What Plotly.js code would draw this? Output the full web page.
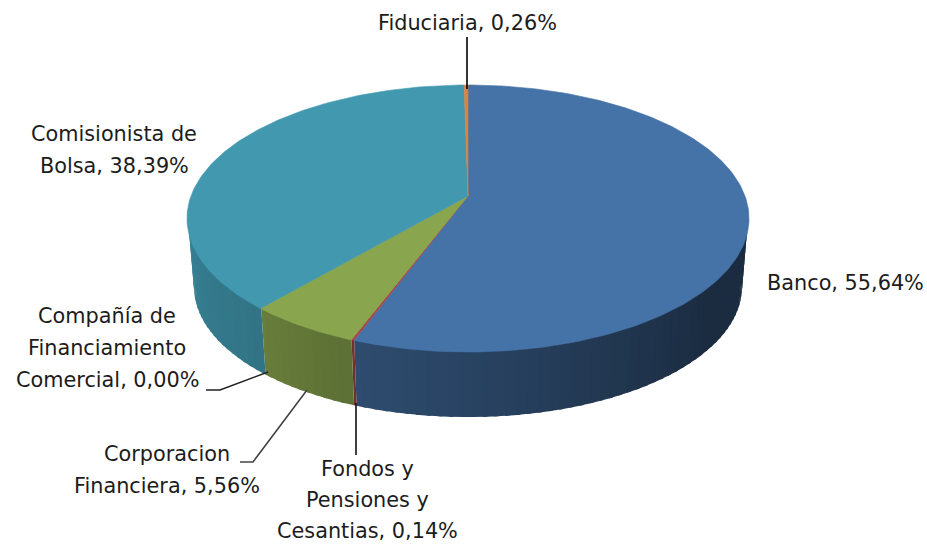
<!DOCTYPE html>
<html>
<head>
<meta charset="utf-8">
<script src="https://cdn.plot.ly/plotly-3.0.1.min.js"></script>
<style>html,body{margin:0;padding:0;background:#fff}#chart{width:927px;height:544px}</style>
</head>
<body>
<div id="chart"></div>
<script>
// Data, clockwise from 12 o'clock
const categories = ["Banco", "Fondos y Pensiones y Cesantias", "Corporacion Financiera", "Compañía de Financiamiento Comercial", "Comisionista de Bolsa", "Fiduciaria"];
const shares = [55.64, 0.14, 5.56, 0.00, 38.39, 0.26];
const colors = ["#4572A7", "#AA4643", "#89A54E", "#71588F", "#4198AF", "#DB843D"];
const labelLines = [
  ["Banco, 55,64%"],
  ["Fondos y", "Pensiones y", "Cesantias, 0,14%"],
  ["Corporacion", "Financiera, 5,56%"],
  ["Compañía de", "Financiamiento", "Comercial, 0,00%"],
  ["Comisionista de", "Bolsa, 38,39%"],
  ["Fiduciaria, 0,26%"]
];

// Label placement (pixel-like axis units), one entry per slice
const labelCenterX = [845, 367, 167, 107, 114, 467];
const labelFirstY = [283, 469, 454, 316, 134, 23];
const labelLineGap = [31.5, 31, 31.5, 32, 31.5, 31.5];
// Leader lines
const leaders = [
  {x: [467, 467], y: [37, 89], c: "#000"},
  {x: [356, 356], y: [403, 455], c: "#111"},
  {x: [307, 253, 240], y: [390, 462, 462], c: "#444"},
  {x: [268, 220, 206], y: [372, 390, 390], c: "#222"}
];

// Projection of the tilted disc
const cx = 468, topCy = 196, baseCy = 265, a = 277, b = 129.7, k = 0.1685, baseScale = 0.975;
function project(frac, s, cy) {
  const t = 2 * Math.PI * frac, X = Math.sin(t), Y = -Math.cos(t), d = 1 - k * Y;
  return [cx + s * a * X / d, cy + s * b * Y / d];
}
const shadeDeg = [0, 130, 200, 220, 300, 360];
const shadeVal = [0.39, 0.39, 0.67, 0.76, 0.93, 0.93];
function shadeAt(deg) {
  for (let i = 1; i < shadeDeg.length; i++) {
    if (deg <= shadeDeg[i]) {
      const f = (deg - shadeDeg[i - 1]) / (shadeDeg[i] - shadeDeg[i - 1]);
      return shadeVal[i - 1] + f * (shadeVal[i] - shadeVal[i - 1]);
    }
  }
  return shadeVal[shadeVal.length - 1];
}
function shaded(hex, f) {
  const n = parseInt(hex.slice(1), 16);
  return "rgb(" + [n >> 16 & 255, n >> 8 & 255, n & 255].map(v => Math.round(v * f)).join(",") + ")";
}

const total = shares.reduce((p, v) => p + v, 0);
const traces = [];
let acc = 0;
const spans = shares.map(v => { const s = [acc / total, (acc + v) / total]; acc += v; return s; });

// Side wall: strips drawn clockwise, each overlapping the next one a little
const sideFrom = 60 / 360, sideTo = 300 / 360, stepFrac = 2 / 360, overlap = 0.8 / 360, topInset = 0.996;
spans.forEach((sp, i) => {
  const from = Math.max(sp[0], sideFrom), to = Math.min(sp[1], sideTo);
  if (to <= from) return;
  const n = Math.max(1, Math.ceil((to - from) / stepFrac));
  for (let j = n - 1; j >= 0; j--) {
    const f0 = from + (to - from) * j / n;
    const f1 = from + (to - from) * (j + 1) / n + (j === n - 1 ? 0 : overlap);
    const p = [project(f0, topInset, topCy), project(f1, topInset, topCy), project(f1, baseScale, baseCy), project(f0, baseScale, baseCy)];
    traces.push({
      type: "scatter", mode: "none", x: p.map(q => q[0]).concat(p[0][0]), y: p.map(q => q[1]).concat(p[0][1]),
      fill: "toself", fillcolor: shaded(colors[i], shadeAt((f0 + f1) * 180)), hoverinfo: "skip", showlegend: false
    });
  }
});

// Top face
spans.forEach((sp, i) => {
  if (sp[1] <= sp[0]) return;
  const n = Math.max(2, Math.ceil((sp[1] - sp[0]) * 360));
  const xs = [cx], ys = [topCy];
  for (let j = 0; j <= n; j++) {
    const q = project(sp[0] + (sp[1] - sp[0]) * j / n, 1, topCy);
    xs.push(q[0]); ys.push(q[1]);
  }
  xs.push(cx); ys.push(topCy);
  traces.push({
    type: "scatter", mode: "lines", name: categories[i], x: xs, y: ys, fill: "toself", fillcolor: colors[i],
    line: {color: colors[i], width: 0.6}, text: categories[i] + ": " + shares[i].toFixed(2).replace(".", ",") + "%",
    hoverinfo: "text", showlegend: false
  });
});

// Leader lines
leaders.forEach(l => traces.push({
  type: "scatter", mode: "lines", x: l.x, y: l.y, line: {color: l.c, width: 1.6}, hoverinfo: "skip", showlegend: false
}));

// Labels
const annotations = [];
labelLines.forEach((lines, i) => lines.forEach((txt, j) => annotations.push({
  xref: "x", yref: "y", x: labelCenterX[i], y: labelFirstY[i] + j * labelLineGap[i], text: txt, showarrow: false,
  xanchor: "center", yanchor: "middle", font: {family: "'DejaVu Sans', Verdana, sans-serif", size: 20.8, color: "#1c1c1c"}
})));

Plotly.newPlot("chart", traces, {
  width: 927, height: 544, margin: {l: 0, r: 0, t: 0, b: 0}, showlegend: false,
  paper_bgcolor: "#fff", plot_bgcolor: "#fff",
  xaxis: {range: [0, 927], visible: false, fixedrange: true},
  yaxis: {range: [544, 0], visible: false, fixedrange: true},
  annotations: annotations
}, {displayModeBar: false});
</script>
</body>
</html>
